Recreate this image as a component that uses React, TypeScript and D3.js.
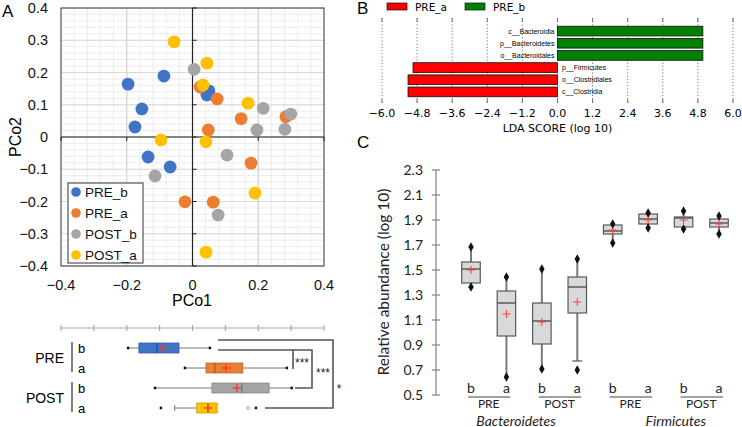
import React from 'react';
import * as d3 from 'd3';

// ---------- Panel A: PCoA scatter ----------
const pcoSeries = ['PRE_b', 'PRE_a', 'POST_b', 'POST_a'];
const pcoColors = ['#3F74C6', '#ED7D31', '#A5A5A5', '#FFC000'];
const preBX = [-0.196, -0.087, -0.154, -0.175, 0.05, 0.044, -0.135, -0.068];
const preBY = [0.164, 0.189, 0.087, 0.031, 0.143, 0.13, -0.062, -0.093];
const preAX = [0.023, 0.075, 0.148, 0.284, 0.048, 0.178, -0.023, 0.063];
const preAY = [0.155, 0.118, 0.057, 0.063, 0.022, -0.081, -0.201, -0.202];
const postBX = [0.005, 0.215, 0.299, 0.196, 0.281, 0.105, 0.078, -0.114];
const postBY = [0.21, 0.089, 0.071, 0.022, 0.024, -0.056, -0.242, -0.121];
const postAX = [-0.056, 0.044, 0.032, 0.169, -0.096, 0.041, 0.19, 0.041];
const postAY = [0.295, 0.229, 0.161, 0.105, -0.009, -0.015, -0.174, -0.357];
const pcoXs = [preBX, preAX, postBX, postAX];
const pcoYs = [preBY, preAY, postBY, postAY];
const pcoTicksY = [-0.4, -0.3, -0.2, -0.1, 0, 0.1, 0.2, 0.3, 0.4];
const pcoTicksX = [-0.4, -0.2, 0, 0.2, 0.4];

// ---------- Panel A: PCo1 box plots ----------
const boxPeriods = ['PRE', 'POST'];
const boxStates = ['b', 'a'];
const pcoBoxLow = [-0.196, -0.023, -0.114, -0.054];
const pcoBoxQ1 = [-0.163, 0.041, 0.059, 0.013];
const pcoBoxMed = [-0.108, 0.068, 0.15, 0.047];
const pcoBoxMean = [-0.09, 0.102, 0.135, 0.047];
const pcoBoxQ3 = [-0.041, 0.153, 0.233, 0.075];
const pcoBoxHigh = [0.053, 0.287, 0.302, 0.075];
const pcoBoxOutFilled = [[], [], [], [-0.096, 0.193]];
const pcoBoxOutOpen = [[], [], [], [0.169]];
const pcoBoxAxisTicks = [-0.4, -0.3, -0.2, -0.1, 0, 0.1, 0.2, 0.3, 0.4];

// ---------- Panel B: LDA ----------
const ldaTaxa = ['c__Bacteroidia', 'p__Bacteroidetes', 'o__Bacteroidales', 'p__Firmicutes', 'o__Clostridiales', 'c__Clostridia'];
const ldaScores = [4.97, 4.97, 4.97, -4.94, -5.11, -5.11];
const ldaTicks = [-6, -4.8, -3.6, -2.4, -1.2, 0, 1.2, 2.4, 3.6, 4.8, 6];
const ldaLegend = ['PRE_a', 'PRE_b'];
const ldaColors = ['#FF0000', '#008000'];

// ---------- Panel C: relative abundance ----------
const abundTaxa = ['Bacteroidetes', 'Firmicutes'];
const abundMin = [1.364, 0.644, 0.708, 0.7, 1.716, 1.836, 1.828, 1.788];
const abundWLow = [1.364, 0.644, 0.708, 0.772, 1.716, 1.836, 1.828, 1.788];
const abundQ1 = [1.396, 0.972, 0.908, 1.156, 1.788, 1.868, 1.844, 1.844];
const abundMed = [1.508, 1.236, 1.092, 1.364, 1.812, 1.908, 1.916, 1.876];
const abundMean = [1.5, 1.148, 1.084, 1.244, 1.82, 1.9, 1.9, 1.868];
const abundQ3 = [1.564, 1.332, 1.236, 1.444, 1.86, 1.948, 1.924, 1.908];
const abundWHigh = [1.684, 1.444, 1.508, 1.588, 1.868, 1.956, 1.972, 1.932];
const abundMax = [1.684, 1.444, 1.508, 1.588, 1.868, 1.956, 1.972, 1.932];
const abundTicks = [0.5, 0.7, 0.9, 1.1, 1.3, 1.5, 1.7, 1.9, 2.1, 2.3];

const fA = "'Liberation Sans', Arial, sans-serif";
const fB = "'DejaVu Sans', sans-serif";
const fC = "Lato, 'Open Sans', sans-serif";

const fmtA = (v: number) => (Math.abs(v) < 1e-9 ? '0' : d3.format('.1f')(v));
const fmtB = (v: number) => d3.format('.1f')(v).replace('-', '\u2212');

function PanelA() {
  const x = d3.scaleLinear([-0.4, 0.4], [61, 324]);
  const y = d3.scaleLinear([-0.4, 0.4], [266, 8]);
  const minorX = d3.range(-0.4, 0.4001, 0.04);
  const minorY = d3.range(-0.4, 0.4001, 0.02);
  const majorX = [-0.2, 0.2];
  const legY = d3.scalePoint(pcoSeries, [192, 255]);
  return (
    <g>
      <text x={2} y={17} fontFamily={fA} fontSize={17}>A</text>
      {minorX.map((v, i) => (
        <line key={'mx' + i} x1={x(v)} x2={x(v)} y1={8} y2={266} stroke="#ececec" strokeWidth={1} />
      ))}
      {minorY.map((v, i) => (
        <line key={'my' + i} x1={61} x2={324} y1={y(v)} y2={y(v)} stroke="#ececec" strokeWidth={1} />
      ))}
      {majorX.map((v, i) => (
        <line key={'Mx' + i} x1={x(v)} x2={x(v)} y1={8} y2={266} stroke="#d4d4d4" strokeWidth={1.2} />
      ))}
      {pcoTicksY.map((v, i) => (
        <line key={'My' + i} x1={61} x2={324} y1={y(v)} y2={y(v)} stroke="#d9d9d9" strokeWidth={1.2} />
      ))}
      <rect x={61} y={8} width={263} height={258} fill="none" stroke="#3a3a3a" strokeWidth={1} />
      <line x1={61} x2={324} y1={y(0)} y2={y(0)} stroke="#222" strokeWidth={1.2} />
      <line x1={x(0)} x2={x(0)} y1={8} y2={266} stroke="#222" strokeWidth={1.2} />
      {pcoTicksY.map((v, i) => (
        <line key={'ty' + i} x1={x(0)} x2={x(0) + 4} y1={y(v)} y2={y(v)} stroke="#222" />
      ))}
      {pcoTicksX.map((v, i) => (
        <line key={'tx' + i} x1={x(v)} x2={x(v)} y1={y(0)} y2={y(0) + 4} stroke="#222" />
      ))}
      {pcoTicksY.map((v, i) => (
        <text key={'ly' + i} x={48} y={y(v) + 5} textAnchor="end" fontFamily={fA} fontSize={14.5} fill="#111">
          {fmtA(v)}
        </text>
      ))}
      {pcoTicksX.map((v, i) => (
        <text key={'lx' + i} x={x(v)} y={290} textAnchor="middle" fontFamily={fA} fontSize={14.5} fill="#111">
          {fmtA(v)}
        </text>
      ))}
      <text x={192} y={306} textAnchor="middle" fontFamily={fA} fontSize={16}>PCo1</text>
      <text transform={`translate(21,${y(0)}) rotate(-90)`} textAnchor="middle" fontFamily={fA} fontSize={16}>PCo2</text>
      {pcoSeries.map((s, si) =>
        pcoXs[si].map((vx, i) => (
          <circle key={s + i} cx={x(vx)} cy={y(pcoYs[si][i])} r={6.4} fill={pcoColors[si]} />
        ))
      )}
      <rect x={68} y={183} width={75} height={80} fill="#fff" stroke="#333" strokeWidth={1} />
      {pcoSeries.map((s, si) => (
        <g key={'lg' + s}>
          <circle cx={76} cy={legY(s)!} r={4.8} fill={pcoColors[si]} />
          <text x={85} y={legY(s)! + 4.8} fontFamily={fA} fontSize={13.5} fill="#111">{s}</text>
        </g>
      ))}
    </g>
  );
}

function PanelABox() {
  const x = d3.scaleLinear([-0.4, 0.4], [61, 324]);
  const rows = d3.scalePoint(pcoSeries, [348, 408]);
  const h = 10;
  const axY = 328;
  const r0 = rows('PRE_b')!, r1 = rows('PRE_a')!, r2 = rows('POST_b')!, r3 = rows('POST_a')!;
  return (
    <g>
      <line x1={61} x2={324} y1={axY} y2={axY} stroke="#a8a8a8" strokeWidth={1.2} />
      {pcoBoxAxisTicks.map((v, i) => (
        <line key={'bt' + i} x1={x(v)} x2={x(v)} y1={axY - 3} y2={axY + 3} stroke="#a8a8a8" strokeWidth={1.2} />
      ))}
      {pcoSeries.map((s, i) => {
        const cy = rows(s)!;
        return (
          <g key={'bx' + s}>
            <line x1={x(pcoBoxLow[i])} x2={x(pcoBoxQ1[i])} y1={cy} y2={cy} stroke="#777" strokeWidth={1} />
            <line x1={x(pcoBoxQ3[i])} x2={x(pcoBoxHigh[i])} y1={cy} y2={cy} stroke="#777" strokeWidth={1} />
            {i === 3 ? (
              <line x1={x(pcoBoxLow[i])} x2={x(pcoBoxLow[i])} y1={cy - 3} y2={cy + 3} stroke="#777" />
            ) : (
              <>
                <circle cx={x(pcoBoxLow[i])} cy={cy} r={1.4} fill="#111" />
                <circle cx={x(pcoBoxHigh[i])} cy={cy} r={1.4} fill="#111" />
              </>
            )}
            <rect x={x(pcoBoxQ1[i])} y={cy - h / 2} width={x(pcoBoxQ3[i]) - x(pcoBoxQ1[i])} height={h}
              fill={pcoColors[i]} stroke={d3.color(pcoColors[i])!.darker(0.6).toString()} strokeWidth={0.8} />
            <line x1={x(pcoBoxMed[i])} x2={x(pcoBoxMed[i])} y1={cy - h / 2} y2={cy + h / 2}
              stroke={d3.color(pcoColors[i])!.darker(1.3).toString()} strokeWidth={1} />
            <line x1={x(pcoBoxMean[i]) - 4} x2={x(pcoBoxMean[i]) + 4} y1={cy} y2={cy} stroke="#ff2a2a" strokeWidth={1.2} />
            <line x1={x(pcoBoxMean[i])} x2={x(pcoBoxMean[i])} y1={cy - 4} y2={cy + 4} stroke="#ff2a2a" strokeWidth={1.2} />
            {pcoBoxOutFilled[i].map((o, j) => (
              <circle key={'of' + j} cx={x(o)} cy={cy} r={1.4} fill="#111" />
            ))}
            {pcoBoxOutOpen[i].map((o, j) => (
              <circle key={'oo' + j} cx={x(o)} cy={cy} r={1.5} fill="#fff" stroke="#888" strokeWidth={0.7} />
            ))}
          </g>
        );
      })}
      {/* significance brackets */}
      <path d={`M218,${r0 - 8} H333 V${r3} H265`} fill="none" stroke="#555" strokeWidth={1.6} />
      <path d={`M218,${r0 + 2} H312 V${r2} H295`} fill="none" stroke="#555" strokeWidth={1.6} />
      <path d={`M293,${r0 + 2} V${r1 + 1}`} fill="none" stroke="#555" strokeWidth={1.6} />
      <text x={302} y={(r0 + r1) / 2 + 9} textAnchor="middle" fontFamily={fA} fontSize={12} fill="#222">***</text>
      <text x={323} y={r1 + 9} textAnchor="middle" fontFamily={fA} fontSize={12} fill="#222">***</text>
      <text x={339} y={(r1 + r2) / 2 + 15} textAnchor="middle" fontFamily={fA} fontSize={12} fill="#222">*</text>
      {/* group labels */}
      {boxPeriods.map((p, pi) => {
        const ya = rows(pcoSeries[pi * 2])!;
        const yb = rows(pcoSeries[pi * 2 + 1])!;
        return (
          <g key={'gp' + p}>
            <text x={64} y={(ya + yb) / 2 + 5} textAnchor="end" fontFamily={fA} fontSize={14}>{p}</text>
            <line x1={72} x2={72} y1={ya - 6} y2={yb + 4} stroke="#555" strokeWidth={1.5} />
            {boxStates.map((st, si) => (
              <text key={st} x={78} y={(si === 0 ? ya : yb) + 4.5} fontFamily={fA} fontSize={13}>{st}</text>
            ))}
          </g>
        );
      })}
    </g>
  );
}

function PanelB() {
  const x = d3.scaleLinear([-6, 6], [382, 733]);
  const y = d3.scaleBand(ldaTaxa, [25, 98]).paddingInner(0.2).paddingOuter(0.1);
  return (
    <g>
      <text x={357} y={14} fontFamily={fA} fontSize={17}>B</text>
      {ldaLegend.map((l, i) => (
        <g key={'bl' + l}>
          <rect x={387 + i * 78} y={3} width={20} height={7} fill={ldaColors[i]} stroke="#111" strokeWidth={0.7} />
          <text x={415 + i * 78} y={11} fontFamily={fB} fontSize={10.5}>{l}</text>
        </g>
      ))}
      {ldaTicks.map((t, i) => (
        <g key={'lt' + i}>
          <line x1={x(t)} x2={x(t)} y1={18} y2={103} stroke="#555" strokeWidth={0.8} strokeDasharray="1.2,2" />
          <line x1={x(t)} x2={x(t)} y1={18} y2={22} stroke="#555" strokeWidth={0.8} />
          <line x1={x(t)} x2={x(t)} y1={99} y2={103} stroke="#555" strokeWidth={0.8} />
          <text x={x(t)} y={117} textAnchor="middle" fontFamily={fB} fontSize={11}>{fmtB(t)}</text>
        </g>
      ))}
      {ldaTaxa.map((tx, i) => {
        const v = ldaScores[i];
        const x0 = Math.min(x(0), x(v));
        const w = Math.abs(x(v) - x(0));
        return (
          <g key={'lb' + tx}>
            <rect x={x0} y={y(tx)!} width={w} height={y.bandwidth()} fill={v > 0 ? ldaColors[1] : ldaColors[0]}
              stroke="#111" strokeWidth={0.8} />
            <text x={v > 0 ? x(0) - 3 : x(0) + 4.5} y={y(tx)! + y.bandwidth() / 2 + 2.5}
              textAnchor={v > 0 ? 'end' : 'start'} fontFamily={fA} fontSize={7}>{tx}</text>
          </g>
        );
      })}
      <text x={x(0)} y={132} textAnchor="middle" fontFamily={fB} fontSize={11}>LDA SCORE (log 10)</text>
    </g>
  );
}

function PanelC() {
  const y = d3.scaleLinear([0.5, 2.3], [395, 170]);
  const idx = d3.range(8);
  const x = d3.scalePoint(idx, [471, 719]);
  const bw = 18.5;
  const diamond = d3.symbol(d3.symbolDiamond, 26)()!;
  const labels: string[] = [];
  abundTaxa.forEach(() => boxPeriods.forEach(() => boxStates.forEach((s) => labels.push(s))));
  return (
    <g>
      <text x={357} y={148} fontFamily={fA} fontSize={17}>C</text>
      <line x1={436} x2={436} y1={170} y2={395} stroke="#8a8a8a" strokeWidth={1.3} />
      {abundTicks.map((t, i) => (
        <g key={'ct' + i}>
          <line x1={432} x2={440} y1={y(t)} y2={y(t)} stroke="#8a8a8a" strokeWidth={1.3} />
          <text x={423} y={y(t) + 5} textAnchor="end" fontFamily={fC} fontSize={14} fill="#222">{d3.format('.1f')(t)}</text>
        </g>
      ))}
      <text transform={`translate(389,282) rotate(-90)`} textAnchor="middle" fontFamily={fC} fontSize={15.5} fill="#222">
        Relative abundance (log 10)
      </text>
      {idx.map((i) => {
        const cx = x(i)!;
        return (
          <g key={'cb' + i}>
            <line x1={cx} x2={cx} y1={y(abundWLow[i])} y2={y(abundQ1[i])} stroke="#7a7a7a" strokeWidth={2} />
            <line x1={cx} x2={cx} y1={y(abundQ3[i])} y2={y(abundWHigh[i])} stroke="#7a7a7a" strokeWidth={2} />
            {abundWLow[i] !== abundMin[i] && (
              <line x1={cx - 5} x2={cx + 5} y1={y(abundWLow[i])} y2={y(abundWLow[i])} stroke="#555" strokeWidth={1.2} />
            )}
            <rect x={cx - bw / 2} y={y(abundQ3[i])} width={bw} height={y(abundQ1[i]) - y(abundQ3[i])}
              fill="#d9d9d9" stroke="#595959" strokeWidth={1.2} />
            <line x1={cx - bw / 2} x2={cx + bw / 2} y1={y(abundMed[i])} y2={y(abundMed[i])} stroke="#595959" strokeWidth={1.5} />
            <line x1={cx - 4} x2={cx + 4} y1={y(abundMean[i])} y2={y(abundMean[i])} stroke="#ff3b3b" strokeWidth={1} />
            <line x1={cx} x2={cx} y1={y(abundMean[i]) - 4} y2={y(abundMean[i]) + 4} stroke="#ff3b3b" strokeWidth={1} />
            <path d={diamond} transform={`translate(${cx},${y(abundMin[i])})`} fill="#111" />
            <path d={diamond} transform={`translate(${cx},${y(abundMax[i])})`} fill="#111" />
            <text x={cx} y={393} textAnchor="middle" fontFamily={fC} fontSize={14} fill="#222">{labels[i]}</text>
          </g>
        );
      })}
      {abundTaxa.map((tx, ti) => (
        <g key={'cg' + tx}>
          {boxPeriods.map((p, pi) => {
            const a = x(ti * 4 + pi * 2)!;
            const b = x(ti * 4 + pi * 2 + 1)!;
            return (
              <g key={p}>
                <line x1={a - 3} x2={b + 4} y1={397} y2={397} stroke="#444" strokeWidth={1} />
                <text x={(a + b) / 2} y={408} textAnchor="middle" fontFamily={fC} fontSize={12} fill="#222">{p}</text>
              </g>
            );
          })}
          <text x={(x(ti * 4)! + x(ti * 4 + 3)!) / 2 + (ti === 0 ? -8 : 10)} y={425.5} textAnchor="middle"
            fontFamily={fC} fontStyle="italic" fontSize={14} fill="#222">{tx}</text>
        </g>
      ))}
    </g>
  );
}

export default function App() {
  return (
    <svg width={742} height={427} viewBox="0 0 742 427"
      style={{ position: 'absolute', left: 0, top: 0, background: '#fff' }}>
      <rect x={0} y={0} width={742} height={427} fill="#fff" />
      <PanelA />
      <PanelABox />
      <PanelB />
      <PanelC />
    </svg>
  );
}
